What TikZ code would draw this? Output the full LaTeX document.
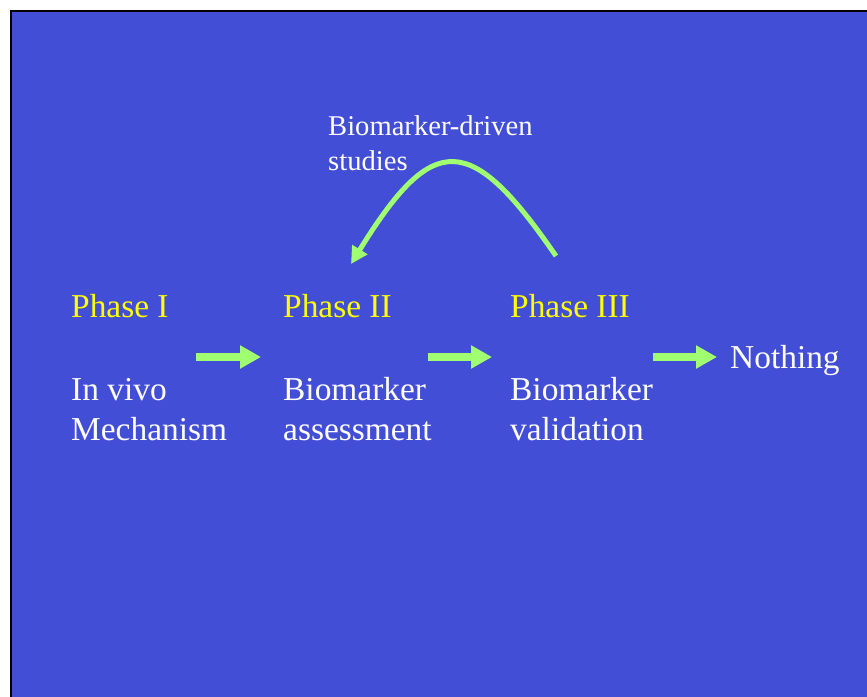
\documentclass[tikz,border=0pt]{standalone}
\usepackage{fontspec}
\setmainfont{Liberation Serif}
\usetikzlibrary{arrows.meta}
\definecolor{slideblue}{RGB}{67,78,214}
\definecolor{arrowgreen}{RGB}{160,255,112}
\definecolor{phaseyellow}{RGB}{255,255,0}
\tikzset{
  phaselabel/.style={anchor=base west, inner sep=0pt, text=phaseyellow, font=\fontsize{33.4}{40}\selectfont},
  bodytext/.style={anchor=base west, inner sep=0pt, text=white, align=left, font=\fontsize{33.4}{40}\selectfont},
  notetext/.style={anchor=base west, inner sep=0pt, text=white, align=left, font=\fontsize{28.6}{35}\selectfont},
  steparrow/.style={draw=arrowgreen, line width=8pt, -{Triangle[length=21pt,width=22pt]}},
  looparrow/.style={draw=arrowgreen, line width=5pt, -{Triangle[length=17pt,width=17pt]}}
}
\begin{document}
\begin{tikzpicture}[x=1pt,y=-1pt]
  \useasboundingbox (0,0) rectangle (867,696);
  \fill[white] (0,0) rectangle (867,696);
  \draw[fill=slideblue, draw=black, line width=2.5pt] (11,11) rectangle (880,710);

  % phase headings
  \node[phaselabel] (p1) at (71,317) {Phase I};
  \node[phaselabel] (p2) at (283,317) {Phase II};
  \node[phaselabel] (p3) at (510,317) {Phase III};

  % descriptions (anchored on the baseline of their last line)
  \node[bodytext] (d1) at (71,440) {In vivo\\Mechanism};
  \node[bodytext] (d2) at (283,440) {Biomarker\\assessment};
  \node[bodytext] (d3) at (510,440) {Biomarker\\validation};
  \node[bodytext] (nothing) at (730,368) {Nothing};

  % loop label
  \node[notetext] (loop) at (328,170) {Biomarker-driven\\studies};

  % arrows between the phases
  \coordinate (a1s) at (196,357);
  \coordinate (a1e) at (261,357);
  \coordinate (a2s) at (428,357);
  \coordinate (a2e) at (492,357);
  \coordinate (a3s) at (653,357);
  \coordinate (a3e) at (717,357);
  \draw[steparrow] (a1s) -- (a1e);
  \draw[steparrow] (a2s) -- (a2e);
  \draw[steparrow] (a3s) -- (a3e);

  % feedback arc from phase III back to phase II
  \coordinate (arcs) at (556,256);
  \coordinate (arce) at (351,264);
  \draw[looparrow] (arcs) .. controls (470,131) and (433,131) .. (arce);
\end{tikzpicture}
\end{document}
